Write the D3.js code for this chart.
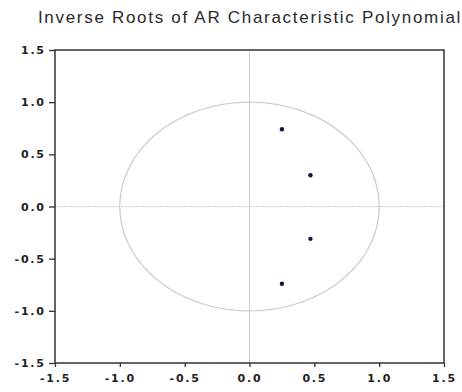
<!DOCTYPE html>
<html><head><meta charset="utf-8">
<script src="https://cdn.jsdelivr.net/npm/d3@7"></script>
<style>
html,body{margin:0;padding:0;background:#fff;}
svg{display:block;}
</style></head>
<body>
<script>
const title = "Inverse Roots of AR Characteristic Polynomial";
const rootsRe = [0.25, 0.47, 0.47, 0.25];
const rootsIm = [0.74, 0.30, -0.31, -0.74];
const xTicks = [-1.5, -1.0, -0.5, 0.0, 0.5, 1.0, 1.5];
const yTicks = [-1.5, -1.0, -0.5, 0.0, 0.5, 1.0, 1.5];

const W = 462, H = 392;
const svg = d3.select("body").append("svg").attr("width", W).attr("height", H);
const x = d3.scaleLinear().domain([-1.5, 1.5]).range([55, 444]);
const y = d3.scaleLinear().domain([-1.5, 1.5]).range([363, 50]);

svg.append("text").attr("x", 250).attr("y", 23).attr("text-anchor", "middle")
  .attr("font-family", "Liberation Sans, Arial, sans-serif").attr("font-size", 17)
  .attr("letter-spacing", 1.7).attr("fill", "#2a2a2a").text(title);

// zero lines
svg.append("line").attr("x1", x(0)).attr("x2", x(0)).attr("y1", y(1.5)).attr("y2", y(-1.5))
  .attr("stroke", "#cfcfd4").attr("stroke-width", 1);
svg.append("line").attr("x1", x(-1.5)).attr("x2", x(1.5)).attr("y1", y(0)).attr("y2", y(0))
  .attr("stroke", "#cfcfd4").attr("stroke-width", 1).attr("stroke-dasharray", "2,1");

// unit circle
const circ = d3.range(0, 361, 2).map(a => [Math.cos(a*Math.PI/180), Math.sin(a*Math.PI/180)]);
svg.append("path").attr("d", d3.line().x(d => x(d[0])).y(d => y(d[1]))(circ))
  .attr("fill", "none").attr("stroke", "#cacace").attr("stroke-width", 1.2);

// roots
svg.selectAll("circle.root").data(rootsRe.map((r, i) => [r, rootsIm[i]])).enter()
  .append("circle").attr("class", "root")
  .attr("cx", d => x(d[0])).attr("cy", d => y(d[1])).attr("r", 2.2)
  .attr("fill", "#14143c");

// frame
svg.append("rect").attr("x", x(-1.5)).attr("y", y(1.5))
  .attr("width", x(1.5) - x(-1.5)).attr("height", y(-1.5) - y(1.5))
  .attr("fill", "none").attr("stroke", "#333").attr("stroke-width", 1.5);

const fmt = v => d3.format(".1f")(v).replace("\u2212", "-");
const tickFont = "DejaVu Sans, Verdana, sans-serif";
const ax = svg.append("g").attr("transform", `translate(0,${y(-1.5)})`)
  .call(d3.axisBottom(x).tickValues(xTicks).tickFormat(fmt).tickSize(4).tickPadding(5));
const ay = svg.append("g").attr("transform", `translate(${x(-1.5)},0)`)
  .call(d3.axisLeft(y).tickValues(yTicks).tickFormat(fmt).tickSize(6).tickPadding(5));
[ax, ay].forEach(g => {
  g.select(".domain").remove();
  g.selectAll("line").attr("stroke", "#333").attr("stroke-width", 1.3);
  g.selectAll("text").attr("font-family", tickFont).attr("font-size", 11)
    .attr("font-weight", "bold").attr("fill", "#222").attr("letter-spacing", 1.8);
});
ax.selectAll("text").attr("dy", "0.9em");
ay.selectAll("text").attr("dx", "1.8");
</script>
</body></html>
